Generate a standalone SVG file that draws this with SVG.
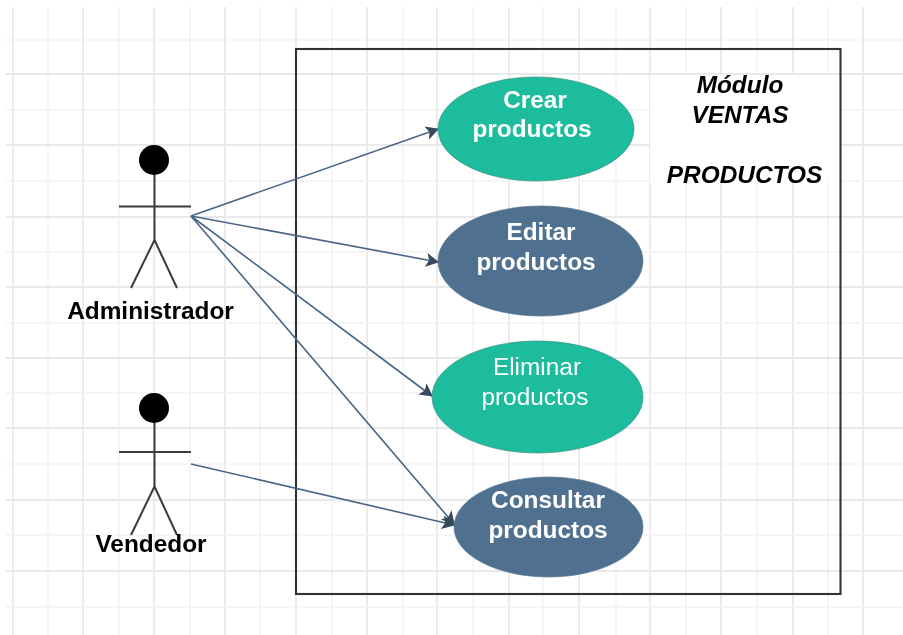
<svg xmlns="http://www.w3.org/2000/svg" width="903" height="635" viewBox="0 0 903 635">
<style>
text{font-family:"Liberation Sans",Arial,sans-serif;font-size:24.4px;text-anchor:middle}
.w{fill:#fff;font-weight:bold}
.k{fill:#000;font-weight:bold}
.i{fill:#000;font-weight:bold;font-style:italic}
.a{stroke:#e9e9e9;stroke-width:1.8;fill:none}
.b{stroke:#f2f2f2;stroke-width:1.5;fill:none}
.f{stroke:#333;stroke-width:2.1;fill:none}
.c{stroke:#4a6585;stroke-width:1.6;fill:none;marker-end:url(#arr)}
.s{stroke:#3a3a3a;stroke-width:2;fill:none}
.g{fill:#1abc9c;stroke:#3f8f85;stroke-width:.7}
.n{fill:#50708f;stroke:#5b7690;stroke-width:.7}
</style>
<defs>
<marker id="arr" markerUnits="userSpaceOnUse" markerWidth="15" markerHeight="15" refX="12" refY="7" orient="auto"><path d="M0 0L13 7L0 14L3 7Z" fill="#34495e"/></marker>
<filter id="soft" x="0" y="0" width="1" height="1" filterUnits="objectBoundingBox"><feGaussianBlur stdDeviation="0.45"/></filter>
</defs>
<rect width="903" height="635" fill="#fff"/>
<g filter="url(#soft)">
<rect width="903" height="635" fill="#fff"/>
<g id="grid">
<path class="a" d="M13 7V635M83 7V635M154 7V635M225 7V635M296 7V635M367 7V635M437 7V635M509 7V635M579 7V635M650 7V635M721 7V635M793 7V635M863 7V635"/>
<path class="b" d="M48 7V635M119 7V635M190 7V635M260 7V635M332 7V635M403 7V635M473 7V635M543 7V635M616 7V635M686 7V635M757 7V635M828 7V635"/>
<path class="a" d="M6 74H903M6 145H903M6 217H903M6 287H903M6 358H903M6 428H903M6 500H903M6 571H903"/>
<path class="b" d="M6 40H903M6 110H903M6 181H903M6 252H903M6 323H903M6 393H903M6 464H903M6 535H903M6 607H903"/>
</g>
<g id="frame">
<rect x="650" y="75" width="190" height="107" fill="#fff"/>
<rect class="f" x="296" y="49" width="544.500" height="545"/>
</g>
<g id="connectors">
<path class="c" d="M191 216L438 129"/>
<path class="c" d="M191 216L438 262"/>
<path class="c" d="M191 216L432 396"/>
<path class="c" d="M191 216L454 524"/>
<path class="c" d="M191 464L454 525"/>
</g>
<g id="actor-administrador">
<circle cx="154" cy="160" r="15" fill="#000"/>
<path class="s" d="M154.500 175V240M119 206.500H191M154.500 240L131 288M154.500 240L177 288"/>
<text class="k" x="150.500" y="319">Administrador</text>
</g>
<g id="actor-vendedor">
<circle cx="154" cy="408" r="15" fill="#000"/>
<path class="s" d="M154.500 423V486.500M119 452H191M154.500 486.500L131 535M154.500 486.500L177 535"/>
<text class="k" x="151" y="552">Vendedor</text>
</g>
<g id="crear">
<ellipse class="g" cx="536" cy="129" rx="98" ry="52"/>
<text class="w" x="535" y="108">Crear</text>
<text class="w" x="532" y="137">productos</text>
</g>
<g id="editar">
<ellipse class="n" cx="540.500" cy="261" rx="102.500" ry="55"/>
<text class="w" x="541" y="240">Editar</text>
<text class="w" x="536" y="270">productos</text>
</g>
<g id="eliminar">
<ellipse class="g" cx="537.500" cy="397" rx="105.500" ry="56" stroke="none"/>
<text x="537" y="375" fill="#fff">Eliminar</text>
<text x="535" y="405" fill="#fff">productos</text>
</g>
<g id="consultar">
<ellipse class="n" cx="548.500" cy="527" rx="94.500" ry="50"/>
<text class="w" x="548" y="508">Consultar</text>
<text class="w" x="548" y="538">productos</text>
</g>
<g id="title">
<text class="i" x="740" y="93">Módulo</text>
<text class="i" x="740" y="123">VENTAS</text>
<text class="i" x="744.500" y="183">PRODUCTOS</text>
</g>
</g>
</svg>
